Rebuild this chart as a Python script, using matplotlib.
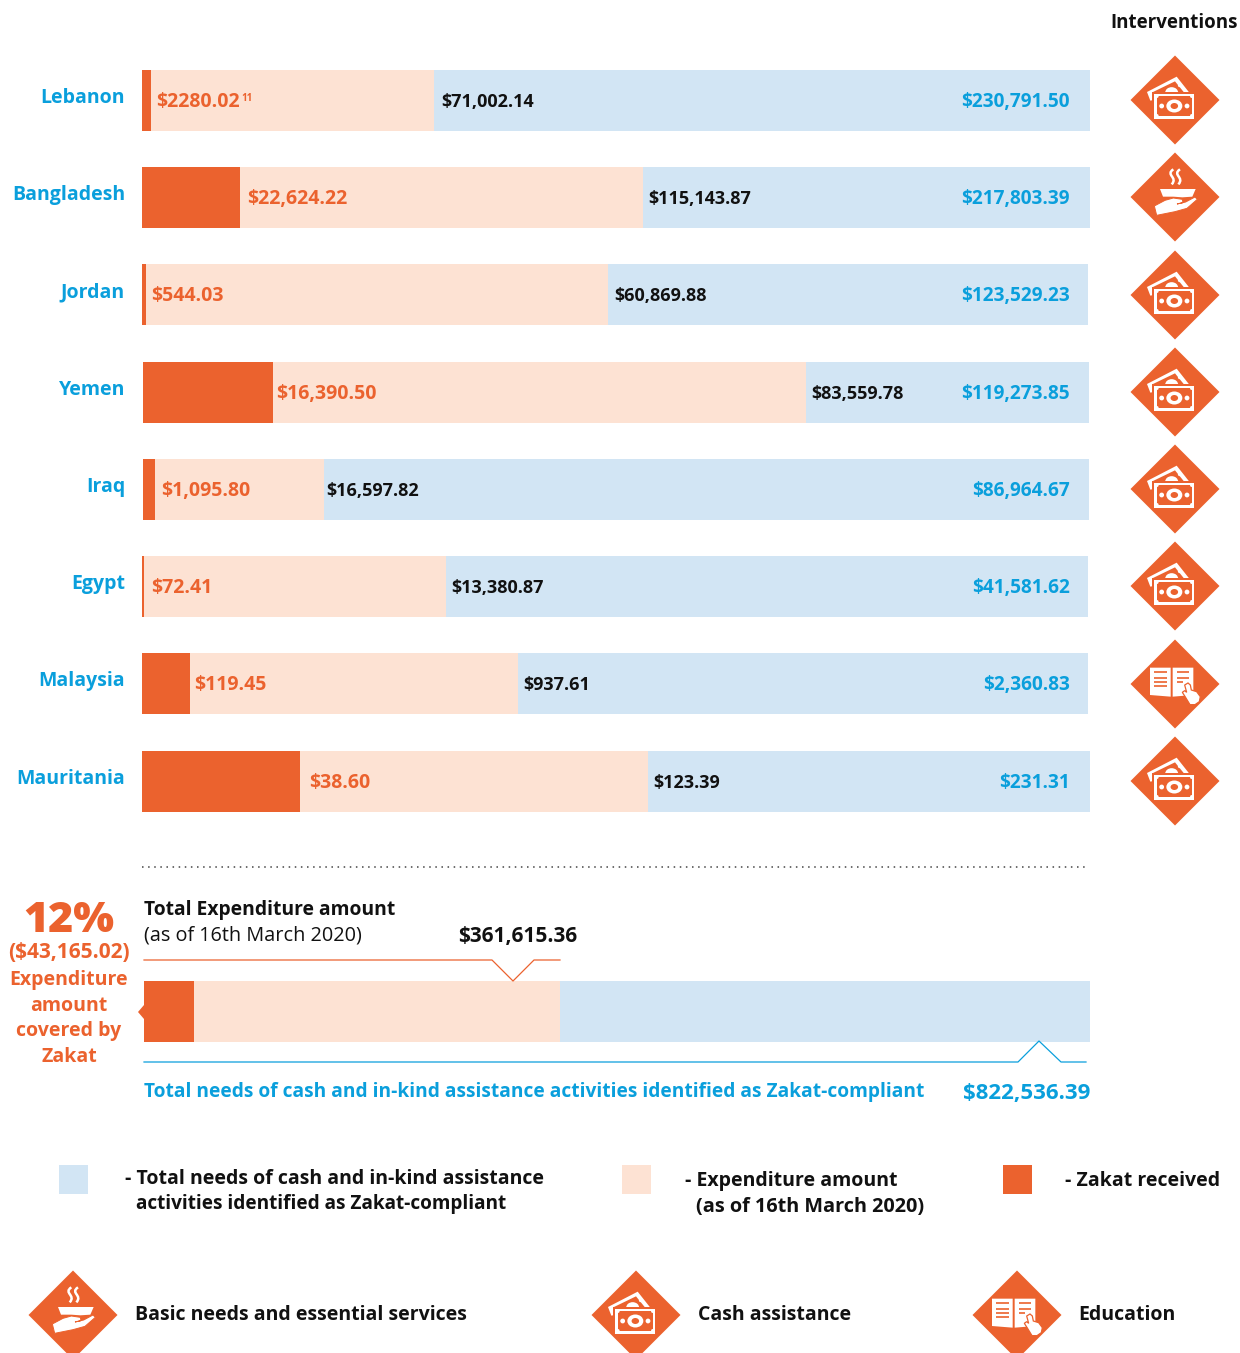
import matplotlib
matplotlib.use('Agg')
import matplotlib.pyplot as plt
from matplotlib.patches import Polygon, Ellipse, Circle, Rectangle, PathPatch
from matplotlib.path import Path

plt.rcParams['font.family'] = ['Open Sans', 'DejaVu Sans']

W, H = 1240, 1353
ORANGE = '#EB622E'
PEACH = '#FDE2D3'
BLUE = '#D2E5F4'
SKY = '#0A9FDC'
BLACK = '#111111'

countries = ['Lebanon', 'Bangladesh', 'Jordan', 'Yemen', 'Iraq', 'Egypt', 'Malaysia', 'Mauritania']
zakat = [2280.02, 22624.22, 544.03, 16390.50, 1095.80, 72.41, 119.45, 38.60]
expenditure = [71002.14, 115143.87, 60869.88, 83559.78, 16597.82, 13380.87, 937.61, 123.39]
needs = [230791.50, 217803.39, 123529.23, 119273.85, 86964.67, 41581.62, 2360.83, 231.31]
interventions = ['cash', 'food', 'cash', 'cash', 'cash', 'cash', 'book', 'cash']

zakat_labels = ['$2280.02', '$22,624.22', '$544.03', '$16,390.50', '$1,095.80', '$72.41', '$119.45', '$38.60']
expenditure_labels = ['$71,002.14', '$115,143.87', '$60,869.88', '$83,559.78', '$16,597.82', '$13,380.87', '$937.61', '$123.39']
needs_labels = ['$230,791.50', '$217,803.39', '$123,529.23', '$119,273.85', '$86,964.67', '$41,581.62', '$2,360.83', '$231.31']

total_zakat = 43165.02
total_expenditure = 361615.36
total_needs = 822536.39

# layout, in pixels of the picture
row_top = [70, 167, 264, 362, 459, 556, 653, 751]
row_left = [142, 142, 142, 143, 143, 142, 142, 142]
row_right = [1090, 1090, 1088, 1089, 1089, 1088, 1088, 1090]
icon_y = [100, 197, 295, 392, 489, 586, 684, 781]
zakat_x = [156, 247, 151, 276, 161, 151, 194, 309]
exp_x = [441, 648, 614, 811, 326, 451, 523, 653]

fig = plt.figure(figsize=(W / 100, H / 100), dpi=100)


def bar_axes(left, right, top, bottom, total):
    a = fig.add_axes([left / W, 1 - bottom / H, (right - left) / W, (bottom - top) / H])
    a.set_xlim(0, total)
    a.set_ylim(-0.5, 0.5)
    a.axis('off')
    return a


for i in range(len(countries)):
    a = bar_axes(row_left[i], row_right[i], row_top[i], row_top[i] + 61, needs[i])
    a.barh(0, needs[i], height=1, color=BLUE)
    a.barh(0, expenditure[i], height=1, color=PEACH)
    a.barh(0, zakat[i], height=1, color=ORANGE)

a = bar_axes(144, 1090, 981, 1042, total_needs)
a.barh(0, total_needs, height=1, color=BLUE)
a.barh(0, total_expenditure, height=1, color=PEACH)
a.barh(0, total_zakat, height=1, color=ORANGE)

# overlay for text and icons
ax = fig.add_axes([0, 0, 1, 1])
ax.set_xlim(0, W)
ax.set_ylim(H, 0)
ax.axis('off')
ax.patch.set_alpha(0)


def put(x, y, s, size=13, color=BLACK, weight='bold', ha='left'):
    ax.text(x, y, s, fontsize=size, color=color, fontweight=weight, ha=ha, va='baseline')


def icon_base(cx, cy):
    ax.add_patch(Polygon([(cx - 44.5, cy), (cx, cy - 44.5), (cx + 44.5, cy), (cx, cy + 44.5)],
                         color=ORANGE, lw=0))


def cash_icon(cx, cy):
    icon_base(cx, cy)
    # sketch coordinates come from a 3x crop, centre at (90, 90)
    p = lambda pts: [(cx + (x - 90) / 3, cy + (y - 90) / 3) for x, y in pts]
    ax.add_patch(Polygon(p([(6, 66), (95, 20), (133, 68), (16, 92)]), color='white', lw=0))
    ax.add_patch(Polygon(p([(24, 66), (90, 34), (116, 66), (24, 76)]), color=ORANGE, lw=0))
    ax.add_patch(Ellipse(p([(80, 68)])[0], 13, 11, color='white', lw=0))
    ax.add_patch(Circle(p([(104, 46)])[0], 1.8, color='white', lw=0))
    ax.add_patch(Rectangle(p([(22, 66)])[0], 43.5, 28.5, color=ORANGE, lw=0))
    ax.add_patch(Rectangle(p([(28, 71)])[0], 40, 25, color='white', lw=0))
    ax.add_patch(Rectangle(p([(36, 79)])[0], 34.5, 19.5, color=ORANGE, lw=0))
    for q in [(36, 79), (140, 79), (36, 137), (140, 137)]:
        ax.add_patch(Circle(p([q])[0], 1.6, color='white', lw=0))
    ax.add_patch(Ellipse(p([(88, 108)])[0], 16, 13, color='white', lw=0))
    ax.add_patch(Ellipse(p([(88, 108)])[0], 7.5, 6, color=ORANGE, lw=0))
    for q in [(50, 108), (126, 108)]:
        ax.add_patch(Circle(p([q])[0], 2.4, color='white', lw=0))


def food_icon(cx, cy):
    icon_base(cx, cy)
    p = lambda pts: [(cx + (x - 90) / 3, cy + (y - 111) / 3) for x, y in pts]
    for dx in (0, 20):
        path = Path(p([(85 + dx, 28), (60 + dx, 45), (100 + dx, 52), (80 + dx, 73)]),
                    [Path.MOVETO, Path.CURVE4, Path.CURVE4, Path.CURVE4])
        ax.add_patch(PathPatch(path, fc='none', ec='white', lw=1.8))
    ax.add_patch(Polygon(p([(45, 87), (152, 87), (142, 110), (112, 112), (85, 110), (54, 110)]),
                         color='white', lw=0))
    ax.add_patch(Polygon(p([(28, 138), (60, 121), (85, 114), (112, 118), (114, 128), (96, 132),
                            (122, 126), (150, 111), (157, 118), (126, 145), (90, 155), (35, 166)]),
                         fc='white', ec=ORANGE, lw=0.7))


def book_icon(cx, cy):
    icon_base(cx, cy)
    p = lambda pts: [(cx + (x - 105) / 3, cy + (y - 87) / 3) for x, y in pts]
    ax.add_patch(Polygon(p([(30, 38), (92, 38), (92, 125), (30, 120)]), color='white', lw=0))
    ax.add_patch(Polygon(p([(98, 38), (160, 38), (160, 120), (98, 125)]), color='white', lw=0))
    for y in (52, 68, 80, 92):
        ax.plot(*zip(*p([(42, y), (82, y)])), color=ORANGE, lw=1.2, solid_capstyle='butt')
    for y, x2 in ((52, 148), (68, 148), (80, 128)):
        ax.plot(*zip(*p([(110, y), (x2, y)])), color=ORANGE, lw=1.2, solid_capstyle='butt')
    ax.add_patch(Polygon(p([(134, 90), (144, 84), (151, 90), (154, 105), (170, 110), (181, 125),
                            (178, 140), (165, 149), (150, 149), (136, 126), (127, 112), (134, 107), (140, 112)]),
                 fc='white', ec=ORANGE, lw=0.9))


icons = {'cash': cash_icon, 'food': food_icon, 'book': book_icon}

put(1238, 28, 'Interventions', ha='right', size=13.5)

for i in range(len(countries)):
    put(125, row_top[i] + 33, countries[i], size=14, color=SKY, ha='right')
    put(zakat_x[i], row_top[i] + 37, zakat_labels[i], size=14, color=ORANGE)
    put(exp_x[i], row_top[i] + 37, expenditure_labels[i], size=13)
    put(1070, row_top[i] + 37, needs_labels[i], size=13.7, color=SKY, ha='right')
    icons[interventions[i]](1175, icon_y[i])
put(241, 101, '11', size=7, color=ORANGE)

# summary block
ax.plot([142, 1086], [867, 867], color='#444444', lw=1.1, dashes=(1, 3))
put(69, 932, '12%', size=31, color=ORANGE, weight='extra bold', ha='center')
put(69, 958, '($43,165.02)', size=15, color=ORANGE, ha='center')
put(69, 985, 'Expenditure', size=14, color=ORANGE, ha='center')
put(69, 1011, 'amount', size=14, color=ORANGE, ha='center')
put(69, 1036, 'covered by', size=14, color=ORANGE, ha='center')
put(69, 1062, 'Zakat', size=14, color=ORANGE, ha='center')
put(144, 915, 'Total Expenditure amount', size=13.85)
put(144, 941, '(as of 16th March 2020)', size=14.3, weight='normal')
put(458, 942, '$361,615.36', size=15)
ax.plot([144, 492, 513, 534, 560], [960, 960, 981, 960, 960], color=ORANGE, lw=0.9)
ax.plot([144, 1018, 1039, 1061, 1086], [1062, 1062, 1041, 1062, 1062], color=SKY, lw=0.9)
ax.add_patch(Polygon([(144, 1005), (138, 1012), (144, 1019)], color=ORANGE, lw=0))
put(144, 1097, 'Total needs of cash and in-kind assistance activities identified as Zakat-compliant',
    size=13.8, color=SKY)
put(963, 1099, '$822,536.39', size=16, color=SKY)

# legend
ax.add_patch(Rectangle((59, 1165), 29, 29, color=BLUE, lw=0))
ax.add_patch(Rectangle((622, 1165), 29, 29, color=PEACH, lw=0))
ax.add_patch(Rectangle((1003, 1165), 29, 29, color=ORANGE, lw=0))
put(125, 1184, '- Total needs of cash and in-kind assistance', size=14)
put(136, 1209, 'activities identified as Zakat-compliant', size=13.65)
put(685, 1186, '- Expenditure amount', size=14)
put(696, 1212, '(as of 16th March 2020)', size=14.3)
put(1065, 1186, '- Zakat received', size=14)

food_icon(73, 1315)
cash_icon(636, 1315)
book_icon(1017, 1315)
put(135, 1320, 'Basic needs and essential services', size=14)
put(698, 1320, 'Cash assistance', size=14)
put(1078, 1320, 'Education', size=14)

fig.savefig('out.png', dpi=100)
